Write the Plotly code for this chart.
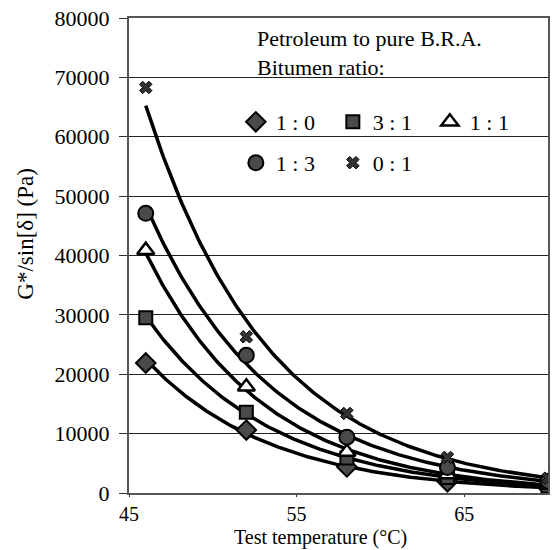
import numpy as np
import plotly.graph_objects as go

temps = [46, 52, 58, 64, 70]
ratio_labels = ["1 : 0", "3 : 1", "1 : 1", "1 : 3", "0 : 1"]
g_1_0 = [21900, 10600, 4400, 1900, 900]
g_3_1 = [29500, 13600, 5900, 2600, 1200]
g_1_1 = [40900, 17900, 6900, 3100, 1400]
g_1_3 = [47100, 23200, 9400, 4300, 2000]
g_0_1 = [68300, 26300, 13400, 6000, 2500]
series = [g_1_0, g_3_1, g_1_1, g_1_3, g_0_1]

y_ticks = [0, 10000, 20000, 30000, 40000, 50000, 60000, 70000, 80000]
x_ticks = [45, 55, 65]

FONT = "Liberation Serif, Times New Roman, DejaVu Serif, serif"

styles = [
    dict(symbol="diamond", size=15, color="#4a4a4a", line=dict(color="black", width=2)),
    dict(symbol="square", size=13, color="#4a4a4a", line=dict(color="black", width=2)),
    dict(symbol="triangle-up", size=15, color="white", line=dict(color="black", width=2.5)),
    dict(symbol="circle", size=15, color="#4a4a4a", line=dict(color="black", width=2)),
    dict(symbol="x", size=11, color="#333333", line=dict(color="black", width=1)),
]
legend_ids = ["legend", "legend", "legend", "legend2", "legend2"]

fig = go.Figure()

# exponential trendlines fitted to the data
xx = np.linspace(46, 70, 200)
for vals in series:
    b, a = np.polyfit(np.array(temps, float), np.log(np.array(vals, float)), 1)
    fig.add_trace(go.Scatter(x=xx, y=np.exp(a + b * xx), mode="lines",
                             line=dict(color="black", width=3.5),
                             showlegend=False, hoverinfo="skip"))

for vals, lab, st, lg in zip(series, ratio_labels, styles, legend_ids):
    fig.add_trace(go.Scatter(x=temps, y=vals, mode="markers", name=lab,
                             marker=st, legend=lg))

fig.update_layout(
    width=552, height=550,
    margin=dict(l=129, r=2, t=18, b=57),
    paper_bgcolor="white", plot_bgcolor="white",
    font=dict(family=FONT, size=22, color="black"),
    legend=dict(orientation="h", x=0.255, y=0.781, xanchor="left", yanchor="middle",
                bgcolor="rgba(0,0,0,0)", entrywidth=52, font=dict(family=FONT, size=22),
                traceorder="normal"),
    legend2=dict(orientation="h", x=0.255, y=0.695, xanchor="left", yanchor="middle",
                 bgcolor="rgba(0,0,0,0)", entrywidth=52, font=dict(family=FONT, size=22),
                 traceorder="normal"),
    annotations=[
        dict(text="Petroleum to pure B.R.A.<br>Bitumen ratio:", xref="paper", yref="paper",
             x=0.30, y=0.988, xanchor="left", yanchor="top", showarrow=False, align="left",
             font=dict(family=FONT, size=22)),
        dict(text="Test temperature (°C)", xref="paper", yref="paper",
             x=0.458, y=-0.1225, xanchor="center", yanchor="bottom", showarrow=False,
             font=dict(family=FONT, size=20)),
        dict(text="G*/sin[δ] (Pa)", xref="paper", yref="paper", textangle=-90,
             x=-0.247, y=0.545, xanchor="center", yanchor="middle", showarrow=False,
             font=dict(family=FONT, size=23)),
    ],
)

fig.update_xaxes(range=[45, 70], tickvals=x_ticks, ticks="outside", ticklen=2,
                 tickcolor="#333", showgrid=False, zeroline=False,
                 showline=True, linecolor="#555", linewidth=2, mirror=True,
                 tickfont=dict(family=FONT, size=20))
fig.update_yaxes(range=[0, 80000], tickvals=y_ticks, tickformat="d", ticks="outside",
                 ticklen=8, tickcolor="#333", showgrid=True, gridcolor="#222", gridwidth=1,
                 zeroline=False, showline=True, linecolor="#555", linewidth=2, mirror=True,
                 ticklabelstandoff=5,
                 tickfont=dict(family=FONT, size=22))

fig.write_html("out.html")
